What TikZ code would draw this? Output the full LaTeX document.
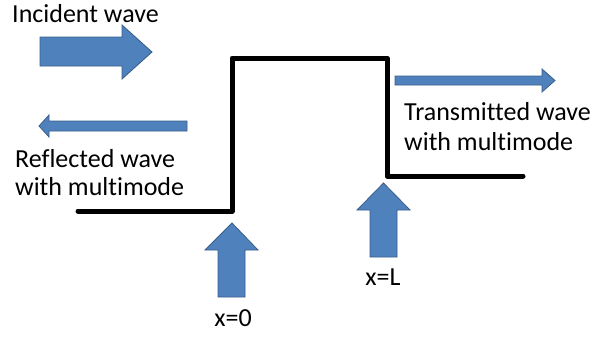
\documentclass[tikz,border=0pt]{standalone}
\usepackage{fontspec}
\setmainfont{Carlito}[Ligatures=NoCommon]
\begin{document}
\begin{tikzpicture}[x=1pt,y=-1pt,
  blockarrow/.style={fill={rgb,255:red,79;green,129;blue,189},draw={rgb,255:red,56;green,93;blue,138},line width=0.8pt,line join=miter},
  lbl/.style={font=\fontsize{26}{31}\selectfont,inner sep=0pt,anchor=base west},
  clbl/.style={font=\fontsize{26}{31}\selectfont,inner sep=0pt,anchor=base},
  step line/.style={line width=5pt,line join=round,line cap=round}]
\useasboundingbox (0,0) rectangle (596,338);
% step profile
\coordinate (p0) at (78,211);
\coordinate (p1) at (232,211);
\coordinate (p2) at (232,58);
\coordinate (p3) at (387,58);
\coordinate (p4) at (387,176);
\coordinate (p5) at (523,176);
\draw[step line] (p0) -- (p1) -- (p2) -- (p3) -- (p4) -- (p5);
% incident arrow
\draw[blockarrow] (40,37) -- (122,37) -- (122,25) -- (152,52) -- (122,79) -- (122,66) -- (40,66) -- cycle;
% reflected arrow
\draw[blockarrow] (187,121) -- (49,121) -- (49,115) -- (39,126) -- (49,137) -- (49,131) -- (187,131) -- cycle;
% transmitted arrow
\draw[blockarrow] (395,76) -- (542,76) -- (542,69) -- (555,80.5) -- (542,92) -- (542,85) -- (395,85) -- cycle;
% x=0 arrow
\draw[blockarrow] (218,297) -- (218,250) -- (205,250) -- (232,223) -- (258,250) -- (245,250) -- (245,297) -- cycle;
% x=L arrow
\draw[blockarrow] (370,257) -- (370,210) -- (357,210) -- (383.5,183) -- (410,210) -- (397,210) -- (397,257) -- cycle;
% labels
\node[lbl] (inc) at (12,22) {Incident wave};
\node[lbl] (ref1) at (15,167) {Reflected wave};
\node[lbl] (ref2) at (15,195) {with multimode};
\node[lbl] (tr1) at (404,120) {Transmitted wave};
\node[lbl] (tr2) at (404,150) {with multimode};
\node[clbl] (xL) at (383,285) {x=L};
\node[clbl] (x0) at (233,326) {x=0};
\end{tikzpicture}
\end{document}
